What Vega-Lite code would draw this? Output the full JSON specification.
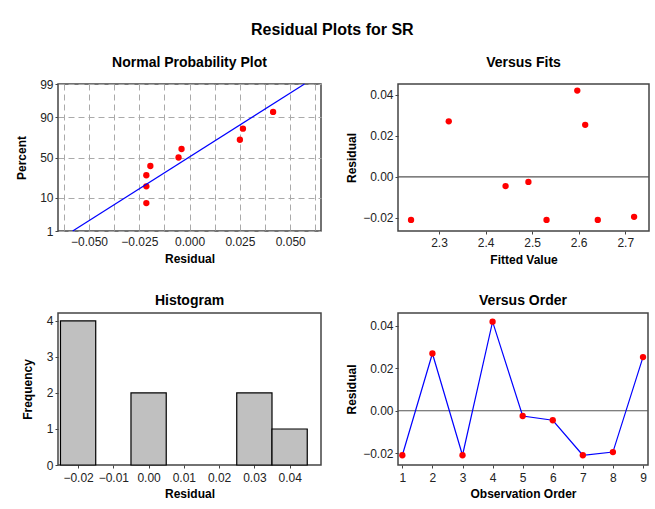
{
  "$schema": "https://vega.github.io/schema/vega-lite/v6.json",
  "background": "white",
  "padding": {"left": 14, "top": 22, "right": 4, "bottom": 5},
  "columns": 2,
  "spacing": {"row": 27, "column": 22},
  "title": {"text": "Residual Plots for SR", "fontSize": 16, "fontWeight": "bold", "font": "Liberation Sans", "color": "black", "anchor": "middle", "offset": 17},
  "datasets": {
    "npp": [
      {"residual": -0.0215, "z": -1.442},
      {"residual": -0.0215, "z": -0.912},
      {"residual": -0.0215, "z": -0.562},
      {"residual": -0.0195, "z": -0.270},
      {"residual": -0.0055, "z": 0.0},
      {"residual": -0.004, "z": 0.270},
      {"residual": 0.025, "z": 0.562},
      {"residual": 0.0265, "z": 0.912},
      {"residual": 0.0415, "z": 1.442}
    ],
    "fitline": [
      {"residual": -0.0581, "z": -2.3263},
      {"residual": 0.0571, "z": 2.3263}
    ],
    "obs": [
      {"order": 1, "fit": 2.240, "residual": -0.0210},
      {"order": 2, "fit": 2.321, "residual": 0.0270},
      {"order": 3, "fit": 2.531, "residual": -0.0210},
      {"order": 4, "fit": 2.597, "residual": 0.0420},
      {"order": 5, "fit": 2.492, "residual": -0.0025},
      {"order": 6, "fit": 2.443, "residual": -0.0045},
      {"order": 7, "fit": 2.641, "residual": -0.0210},
      {"order": 8, "fit": 2.719, "residual": -0.0195},
      {"order": 9, "fit": 2.614, "residual": 0.0253}
    ],
    "hist": [
      {"bin_start": -0.025, "bin_end": -0.015, "count": 4},
      {"bin_start": -0.005, "bin_end": 0.005, "count": 2},
      {"bin_start": 0.025, "bin_end": 0.035, "count": 2},
      {"bin_start": 0.035, "bin_end": 0.045, "count": 1}
    ],
    "zero": [{"residual": 0}]
  },
  "config": {
    "font": "Liberation Sans",
    "view": {"stroke": "#444444", "strokeWidth": 1.5},
    "axis": {
      "labelFont": "Liberation Sans",
      "labelFontSize": 12,
      "labelColor": "#222222",
      "titleFont": "Liberation Sans",
      "titleFontSize": 12,
      "titleFontWeight": "bold",
      "titleColor": "black",
      "domain": false,
      "tickColor": "#444444",
      "tickSize": 3,
      "tickCount": 30,
      "grid": false,
      "labelPadding": 2,
      "labelOverlap": false,
      "labelBound": false,
      "labelFlush": false
    },
    "title": {"font": "Liberation Sans", "fontSize": 14, "fontWeight": "bold", "color": "black", "offset": 14}
  },
  "concat": [
    {
      "title": {"text": "Normal Probability Plot", "offset": 8},
      "width": 263,
      "height": 147,
      "layer": [
        {
          "data": {"name": "npp"},
          "mark": {"type": "point", "filled": true, "color": "#FF0000", "opacity": 1, "size": 40},
          "encoding": {
            "x": {"field": "residual", "type": "quantitative", "scale": {"domain": [-0.0654, 0.0653], "nice": false, "zero": false},
              "axis": {"title": "Residual", "values": [-0.0625, -0.05, -0.0375, -0.025, -0.0125, 0, 0.0125, 0.025, 0.0375, 0.05, 0.0625],
                "labelExpr": "abs(round(datum.value*10000)) % 250 == 0 ? format(datum.value, '.3f') : ''",
                "tickCount": 30,
                "grid": true, "gridDash": [6, 4], "gridColor": "#AAAAAA", "gridWidth": 1, "tickSize": 0, "labelPadding": 5, "titlePadding": 6}},
            "y": {"field": "z", "type": "quantitative", "scale": {"domain": [-2.3263, 2.3263], "nice": false, "zero": false},
              "axis": {"title": "Percent", "values": [-2.3263, -1.2816, 0, 1.2816, 2.3263],
                "labelExpr": "datum.value < -2 ? '1' : datum.value < -1 ? '10' : datum.value < 1 ? '50' : datum.value < 2 ? '90' : '99'",
                "tickCount": 30,
                "grid": true, "gridDash": [6, 4], "gridColor": "#AAAAAA", "gridWidth": 1, "minExtent": 22, "maxExtent": 22, "titlePadding": 8}}
          }
        },
        {
          "data": {"name": "fitline"},
          "mark": {"type": "line", "color": "#0000FF", "strokeWidth": 1.2},
          "encoding": {
            "x": {"field": "residual", "type": "quantitative"},
            "y": {"field": "z", "type": "quantitative"}
          }
        }
      ]
    },
    {
      "title": "Versus Fits",
      "width": 251,
      "height": 147,
      "layer": [
        {
          "data": {"name": "zero"},
          "mark": {"type": "rule", "color": "#555555", "strokeWidth": 1.2},
          "encoding": {"y": {"field": "residual", "type": "quantitative"}}
        },
        {
          "data": {"name": "obs"},
          "mark": {"type": "point", "filled": true, "color": "#FF0000", "opacity": 1, "size": 40},
          "encoding": {
            "x": {"field": "fit", "type": "quantitative", "scale": {"domain": [2.212, 2.751], "nice": false, "zero": false},
              "axis": {"title": "Fitted Value", "values": [2.3, 2.4, 2.5, 2.6, 2.7], "format": ".1f", "labelPadding": 3, "titlePadding": 6}},
            "y": {"field": "residual", "type": "quantitative", "scale": {"domain": [-0.0264, 0.0452], "nice": false, "zero": false},
              "axis": {"title": "Residual", "values": [-0.02, 0, 0.02, 0.04], "format": ".2f", "minExtent": 34, "maxExtent": 34, "titlePadding": 6}}
          }
        }
      ]
    },
    {
      "title": {"text": "Histogram", "offset": 5},
      "width": 263,
      "height": 152,
      "data": {"name": "hist"},
      "mark": {"type": "rect", "fill": "#C0C0C0", "stroke": "black", "strokeWidth": 1.2},
      "encoding": {
        "x": {"field": "bin_start", "type": "quantitative", "scale": {"domain": [-0.0257, 0.0489], "nice": false, "zero": false},
          "axis": {"title": "Residual", "values": [-0.02, -0.01, 0, 0.01, 0.02, 0.03, 0.04], "format": ".2f", "labelPadding": 4, "titlePadding": 5}},
        "x2": {"field": "bin_end"},
        "y": {"field": "count", "type": "quantitative", "scale": {"domain": [0, 4.22], "nice": false},
          "axis": {"title": "Frequency", "values": [0, 1, 2, 3, 4], "format": "d", "minExtent": 16, "maxExtent": 16, "titlePadding": 8}},
        "y2": {"datum": 0}
      }
    },
    {
      "title": {"text": "Versus Order", "offset": 5},
      "width": 250,
      "height": 152,
      "layer": [
        {
          "data": {"name": "zero"},
          "mark": {"type": "rule", "color": "#555555", "strokeWidth": 1.2},
          "encoding": {"y": {"field": "residual", "type": "quantitative"}}
        },
        {
          "data": {"name": "obs"},
          "mark": {"type": "line", "color": "#0000FF", "strokeWidth": 1.2, "point": {"filled": true, "color": "#FF0000", "size": 40, "opacity": 1}},
          "encoding": {
            "x": {"field": "order", "type": "quantitative", "scale": {"domain": [0.856, 9.166], "nice": false, "zero": false},
              "axis": {"title": "Observation Order", "values": [1, 2, 3, 4, 5, 6, 7, 8, 9], "format": "d", "labelPadding": 4, "titlePadding": 5}},
            "y": {"field": "residual", "type": "quantitative", "scale": {"domain": [-0.0256, 0.0461], "nice": false, "zero": false},
              "axis": {"title": "Residual", "values": [-0.02, 0, 0.02, 0.04], "format": ".2f", "minExtent": 34, "maxExtent": 34, "titlePadding": 6}}
          }
        }
      ]
    }
  ]
}
